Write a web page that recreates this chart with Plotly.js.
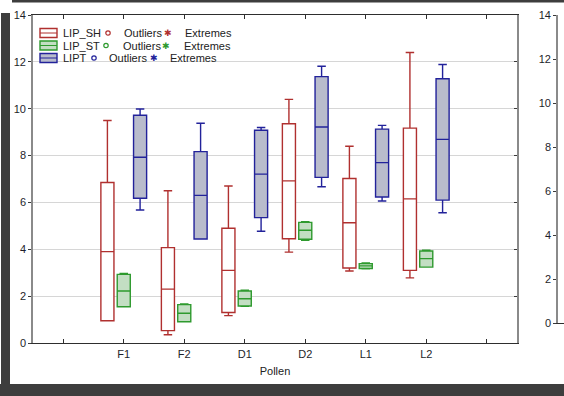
<!DOCTYPE html>
<html><head><meta charset="utf-8">
<script src="https://cdn.plot.ly/plotly-3.0.1.min.js"></script>
<style>html,body{margin:0;padding:0;background:#fff}#c{width:564px;height:396px}</style>
</head><body><div id="c"></div>
<script>
var categories = ['F1','F2','D1','D2','L1','L2'];
var seriesNames = ['LIP_SH','LIP_ST','LIPT'];
// LIP_SH
var shUpper  = [9.5, 6.5, 6.7, 10.4, 8.4, 12.4];
var shQ3     = [6.85, 4.07, 4.9, 9.36, 7.02, 9.17];
var shMedian = [3.9, 2.3, 3.1, 6.92, 5.13, 6.15];
var shQ1     = [0.95, 0.53, 1.3, 4.45, 3.2, 3.1];
var shLower  = [0.95, 0.35, 1.17, 3.88, 3.07, 2.78];
// LIP_ST
var stUpper  = [2.97, 1.67, 2.25, 5.18, 3.42, 3.96];
var stQ3     = [2.93, 1.64, 2.22, 5.15, 3.39, 3.93];
var stMedian = [2.22, 1.27, 1.89, 4.81, 3.29, 3.6];
var stQ1     = [1.55, 0.91, 1.58, 4.43, 3.18, 3.24];
var stLower  = [1.55, 0.9, 1.57, 4.38, 3.17, 3.24];
// LIPT
var ptUpper  = [9.99, 9.38, 9.2, 11.81, 9.29, 11.89];
var ptQ3     = [9.72, 8.17, 9.08, 11.37, 9.13, 11.28];
var ptMedian = [7.93, 6.3, 7.21, 9.22, 7.7, 8.69];
var ptQ1     = [6.18, 4.44, 5.35, 7.07, 6.23, 6.1];
var ptLower  = [5.68, 4.44, 4.77, 6.67, 6.06, 5.56];
var yTicks = [0,2,4,6,8,10,12,14];

var pos = categories.map(function(c,i){return i+1;});
var colors = ['#b0302f','#2e9a2e','#22229a'];
var fills = ['#ffffff','#c3dec3','#b9bccc'];

function boxTrace(name, lo, q1, med, q3, up, k){
  return {type:'box', name:name, x:pos, lowerfence:lo, q1:q1, median:med, q3:q3, upperfence:up,
    line:{color:colors[k], width:1.4}, fillcolor:fills[k], whiskerwidth:0.65,
    boxpoints:false, hoverinfo:'skip', showlegend:false};
}
var data = [
  boxTrace(seriesNames[0], shLower, shQ1, shMedian, shQ3, shUpper, 0),
  boxTrace(seriesNames[1], stLower, stQ1, stMedian, stQ3, stUpper, 1),
  boxTrace(seriesNames[2], ptLower, ptQ1, ptMedian, ptQ3, ptUpper, 2),
  {type:'scatter', x:[], y:[], xaxis:'x2', yaxis:'y2', showlegend:false, hoverinfo:'skip'},
  {type:'scatter', x:[], y:[], xaxis:'x', yaxis:'y3', showlegend:false, hoverinfo:'skip'}
];

var L=33, T=15, W=531, H=328;
function px(v){return (v-L)/W;}
function py(v){return (T+H-v)/H;}

var shapes = [
  {type:'rect', xref:'paper', yref:'paper', x0:px(1), x1:px(10), y0:py(396), y1:py(13), fillcolor:'#3d3d3d', line:{width:0}, layer:'below'},
  {type:'rect', xref:'paper', yref:'paper', x0:px(0), x1:px(564), y0:py(396), y1:py(384), fillcolor:'#3d3d3d', line:{width:0}, layer:'below'},
  {type:'rect', xref:'paper', yref:'paper', x0:px(12), x1:px(564), y0:py(2.5), y1:py(0), fillcolor:'#3d3d3d', line:{width:0}, layer:'below'}
];
var annotations = [];
var rowY = [33, 45.5, 58];
var circX = [108, 106, 94];
var outX = [122, 121, 107];
var astX = [168, 166, 154];
var extX = [183, 182, 168];
for (var k=0;k<3;k++){
  var yc = rowY[k];
  shapes.push({type:'rect', xref:'paper', yref:'paper', x0:px(40), x1:px(57), y0:py(yc+4.5), y1:py(yc-4.5), fillcolor:fills[k], line:{color:colors[k], width:1.4}});
  shapes.push({type:'line', xref:'paper', yref:'paper', x0:px(40), x1:px(57), y0:py(yc), y1:py(yc), line:{color:colors[k], width:1}});
  shapes.push({type:'circle', xref:'paper', yref:'paper', x0:px(circX[k]-2.2), x1:px(circX[k]+2.2), y0:py(yc+2.2), y1:py(yc-2.2), line:{color:colors[k], width:1.2}});
  annotations.push({xref:'paper', yref:'paper', x:px(61), y:py(yc), xanchor:'left', yanchor:'middle', text:seriesNames[k], showarrow:false, font:{size:11, color:'#222'}});
  annotations.push({xref:'paper', yref:'paper', x:px(outX[k]), y:py(yc), xanchor:'left', yanchor:'middle', text:'Outliers', showarrow:false, font:{size:11, color:'#222'}});
  annotations.push({xref:'paper', yref:'paper', x:px(astX[k]), y:py(yc), xanchor:'center', yanchor:'middle', text:'✱', showarrow:false, font:{size:9, color:colors[k], family:'DejaVu Sans'}});
  annotations.push({xref:'paper', yref:'paper', x:px(extX[k]), y:py(yc), xanchor:'left', yanchor:'middle', text:'Extremes', showarrow:false, font:{size:11, color:'#222'}});
}

var tickv = [0].concat(pos).concat([categories.length+1]);
var tickt = [''].concat(categories).concat(['']);

var layout = {
  width:564, height:396,
  margin:{l:L, r:0, t:T, b:396-T-H, pad:0},
  paper_bgcolor:'#ffffff', plot_bgcolor:'#ffffff',
  font:{family:'Liberation Sans, Arial, sans-serif', size:11, color:'#1e1e2a'},
  boxmode:'group', boxgap:0.19, boxgroupgap:0.2,
  showlegend:false,
  xaxis:{domain:[0, 484/W], range:[-0.5, categories.length+1.5], tickvals:tickv, ticktext:tickt,
    showgrid:false, zeroline:false, showline:true, linecolor:'#2e2e2e', linewidth:1.3, mirror:'ticks',
    ticks:'inside', ticklen:4, tickcolor:'#2e2e2e',
    title:{text:'Pollen', font:{size:11, color:'#222'}, standoff:8}},
  yaxis:{range:[0,14], tickvals:yTicks, showgrid:true, gridcolor:'#d6d6d6', gridwidth:1, zeroline:false,
    showline:true, linecolor:'#8a8a8a', linewidth:1.8, mirror:true, ticks:'outside', ticklen:3, tickcolor:'#3a3a3a'},
  yaxis3:{overlaying:'y', side:'right', range:[0,14], tickvals:yTicks, showgrid:false, zeroline:false,
    showline:false, showticklabels:false, ticks:'inside', ticklen:3, tickcolor:'#3a3a3a'},
  xaxis2:{domain:[px(558), 1], anchor:'y2', range:[0,1], showgrid:false, zeroline:false, showline:true,
    linecolor:'#2e2e2e', linewidth:1.3, showticklabels:false, ticks:''},
  yaxis2:{domain:[py(323), 1], anchor:'x2', side:'left', range:[0,14], tickvals:yTicks, showgrid:false, zeroline:false,
    showline:true, linecolor:'#8a8a8a', linewidth:1.8, ticks:'outside', ticklen:3, tickcolor:'#3a3a3a'},
  shapes:shapes, annotations:annotations
};
Plotly.newPlot('c', data, layout, {staticPlot:true, displayModeBar:false});
</script></body></html>
